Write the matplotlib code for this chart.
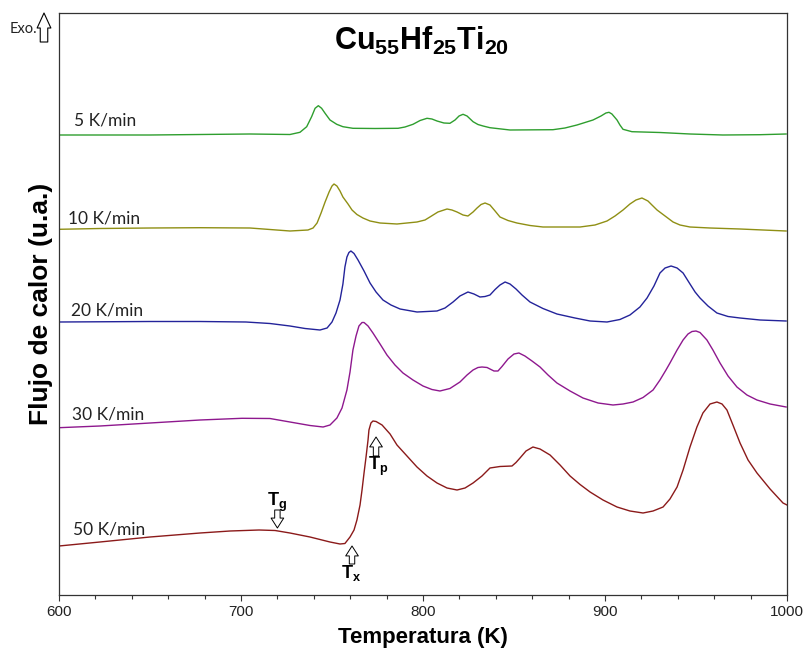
import matplotlib
matplotlib.use("Agg")
import matplotlib.pyplot as plt
from matplotlib.ticker import MultipleLocator

plt.rcParams['mathtext.fontset'] = 'custom'
plt.rcParams['mathtext.rm'] = 'Liberation Sans'
plt.rcParams['mathtext.bf'] = 'Liberation Sans:bold'

# ---------------- data (temperature K, heat flow a.u.) ----------------
T_5 = [600, 650, 677.5, 704.9, 726.9, 732.4, 736.1, 738.8, 740.7, 742.5, 744.3, 746.2, 748.9, 752.6,
       756.0, 761.5, 773.6, 786.3, 790.1, 794.5, 798.4, 802.2, 804.9, 807.7, 811.5, 814.8, 817.6,
       819.8, 822.0, 824.2, 827.5, 830.2, 833.0, 836.8, 847.8, 871.4, 878.0, 884.6, 889.0, 893.4,
       897.8, 900.5, 902.2, 903.8, 906.6, 908.2, 909.9, 914.8, 930.2, 946.7, 964.8, 985.2, 999.5]
Q_5 = [460, 460, 460.5, 461, 460.5, 462.7, 468.3, 478.3, 486.7, 489.3, 486.7, 481.7, 475, 470.7,
       468.3, 466.7, 466.5, 466.7, 468, 470.7, 474.5, 476.7, 476, 474, 472, 471.7, 475,
       479, 480.7, 479, 473.3, 470.5, 469, 467.3, 465, 465.3, 467, 470, 472.5, 475,
       479, 482, 482.7, 481, 475, 470, 465.7, 463.3, 462.5, 461, 460, 460.3, 461]

T_10 = [600, 622.5, 650, 677.5, 704.9, 726.9, 736.8, 739.6, 741.8, 744.0, 746.2, 748.4, 750.0, 751.1,
        752.7, 754.4, 756.0, 758.8, 761.0, 763.7, 767.0, 770.9, 776.4, 785.7, 796.7, 801.1, 803.8,
        808.2, 813.2, 815.9, 818.7, 822.0, 824.7, 827.5, 829.7, 831.9, 834.1, 836.8, 839.6, 842.3,
        846.7, 851.6, 858.8, 865.9, 886.3, 894.5, 901.1, 905.5, 909.9, 913.7, 917.0, 920.3, 923.6,
        925.8, 928.6, 933.0, 937.4, 941.2, 946.7, 957.7, 974.2, 999.5]
Q_10 = [365.7, 366.5, 367, 367.3, 367, 364, 365, 367, 372, 382, 393, 403, 409, 411,
        409, 404, 398, 391, 385, 380.5, 377, 374, 372, 371, 373, 375, 378,
        383, 386, 385, 383, 380, 379, 383, 387, 390.5, 392, 390, 384, 378,
        374.5, 372, 369.5, 368, 368, 370, 374, 379, 385, 391, 395, 397, 394,
        390, 385, 379, 373, 370, 368, 367, 366, 364]

T_20 = [600, 650, 677.5, 702.7, 715.9, 726.9, 735.2, 743.4, 747.3, 750.0, 752.2, 754.4, 756.0, 757.1,
        758.2, 759.3, 760.4, 762.1, 764.3, 767.6, 770.9, 774.2, 778.0, 782.4, 787.4, 796.7, 807.7,
        812.1, 816.5, 820.3, 824.7, 828.0, 831.3, 834.1, 836.8, 839.6, 842.3, 845.1, 847.8, 851.1,
        854.4, 858.8, 865.9, 873.6, 883.5, 891.8, 901.1, 908.2, 913.7, 919.2, 923.1, 926.9, 930.2,
        933.0, 936.3, 939.6, 942.9, 946.7, 949.5, 952.2, 956.6, 961.5, 967.6, 974.2, 985.2, 999.5]
Q_20 = [273, 273.5, 273.5, 273, 271.5, 269, 266.5, 265, 267, 273, 282, 295, 311, 328,
        338, 342.5, 344, 341.5, 335, 324, 312, 303, 295, 290, 286, 283, 284,
        287, 293, 299, 303, 301, 298, 298.5, 300, 305.5, 310, 313, 311, 306,
        300, 293, 286.5, 281, 277, 274, 273, 275.5, 280, 288, 297, 309, 322,
        327, 329, 327, 322, 311, 303, 297, 289, 282, 278.5, 277, 275, 274]

T_30 = [600, 622.5, 650, 677.5, 700.5, 715.9, 726.9, 737.9, 745.1, 748.9, 752.7, 755.5, 758.2, 759.9,
        761.5, 763.2, 764.8, 766.5, 767.6, 769.8, 772.5, 776.4, 780.2, 784.6, 789.0, 794.5, 800.0,
        804.9, 809.3, 814.8, 820.3, 824.2, 827.5, 830.2, 832.4, 835.2, 836.8, 839.0, 841.2, 843.4,
        846.7, 850.0, 852.7, 856.0, 859.9, 864.3, 868.7, 873.6, 880.8, 887.9, 896.2, 904.4, 909.9,
        915.4, 920.9, 926.4, 930.2, 933.5, 935.7, 939.6, 942.9, 945.6, 947.8, 950.0, 952.2, 956.0,
        959.3, 963.2, 967.6, 972.5, 978.0, 983.5, 990.7, 999.5]
Q_30 = [167.3, 169, 172, 175, 176.7, 176.5, 173, 169.5, 168, 170, 177, 187, 205, 223,
        245, 259, 269, 272.5, 272.5, 269, 262, 251, 240, 230, 222, 215, 209,
        205.5, 204, 206.5, 213, 220, 225, 227.5, 228, 227.5, 226, 224, 224, 228.5,
        236, 241, 242, 239, 234, 228, 220, 212, 204, 197, 192, 190, 191,
        193, 197.5, 205, 215, 225, 232, 245, 255, 261, 263.5, 264, 262.5, 255,
        245, 232, 219, 208, 200, 195, 191, 188]

T_50 = [600, 622.5, 650, 677.5, 694.0, 709.9, 718.7, 726.9, 737.9, 748.9, 754.4, 757.1, 759.9, 762.1,
        763.7, 765.4, 766.5, 767.6, 768.7, 769.8, 770.3, 771.4, 772.5, 774.2, 777.5, 781.9, 785.7,
        791.2, 796.7, 802.2, 807.7, 813.2, 818.7, 823.1, 827.5, 832.4, 836.8, 842.3, 848.9, 851.1,
        853.3, 856.6, 860.4, 864.3, 869.8, 875.3, 880.8, 886.3, 891.8, 898.9, 906.6, 913.7, 920.9,
        926.4, 931.9, 935.7, 939.6, 942.9, 946.7, 950.5, 953.8, 957.7, 961.5, 964.3, 967.0, 970.3,
        974.2, 978.6, 983.5, 990.7, 997.8, 1000.0]
Q_50 = [49, 53, 58, 62, 64, 65, 64.5, 62, 58, 53, 51, 51.5, 58, 65,
        75, 90, 105, 122, 138, 155, 165, 172, 174, 173.5, 170, 161, 150,
        139, 128, 119, 112, 107, 105, 107, 112, 119, 127, 128.5, 129, 132.5,
        137, 144, 148, 146, 140, 130, 119, 110.5, 103, 95, 88, 84, 82,
        84, 88, 96, 108, 125, 148, 168, 182, 191, 193, 191, 185, 170,
        152, 135, 122, 106, 92, 90]

rate_labels = ['5 K/min', '10 K/min', '20 K/min', '30 K/min', '50 K/min']
label_T = [608.2, 605.0, 606.6, 607.1, 607.7]
label_Q = [474, 376, 285, 181, 65.5]
colors = ['#2e9e2e', '#8f8f14', '#23239a', '#8e188e', '#8b1a1a']

# characteristic temperatures of 50 K/min curve (arrows)
Tg, Tx, Tp = 720.0, 761.0, 774.2

series_T = [T_5, T_10, T_20, T_30, T_50]
series_Q = [Q_5, Q_10, Q_20, Q_30, Q_50]

# ---------------- figure ----------------
fig = plt.figure(figsize=(8.04, 6.49), dpi=100)
ax = fig.add_axes([59/804, 54/649, 728/804, 582/649])

for T, Q, c in zip(series_T, series_Q, colors):
    ax.plot(T, Q, color=c, lw=1.0, solid_joinstyle='round')

for lab, tx, ty in zip(rate_labels, label_T, label_Q):
    ax.text(tx, ty, lab, family='Lato', fontsize=12.5, color='#222222',
            ha='left', va='center')

ax.set_xlim(600, 1000)
ax.set_ylim(0, 582)
ax.xaxis.set_major_locator(MultipleLocator(100))
ax.xaxis.set_minor_locator(MultipleLocator(20))
ax.tick_params(axis='x', which='both', direction='out', color='#333333')
ax.tick_params(axis='x', which='major', length=4, width=0.8, labelsize=11, pad=3)
ax.tick_params(axis='x', which='minor', length=3.2, width=0.8)
ax.set_yticks([])
for lab in ax.get_xticklabels():
    lab.set_family('Liberation Sans')
    lab.set_color('#222222')
for sp in ax.spines.values():
    sp.set_color('#333333')
    sp.set_linewidth(0.9)

ax.set_xlabel('Temperatura (K)', family='Liberation Sans', fontweight='bold',
              fontsize=16, labelpad=6)
ax.set_ylabel('Flujo de calor (u.a.)', family='Liberation Sans', fontweight='bold',
              fontsize=19, labelpad=4)

ax.text(0.498, 0.952, r'$\mathbf{Cu_{55}Hf_{25}Ti_{20}}$', transform=ax.transAxes,
        fontsize=22, ha='center', va='center', color='black')

arrow_kw = dict(arrowstyle='simple,head_length=0.55,head_width=0.7,tail_width=0.3',
                fc='white', ec='black', lw=0.7, shrinkA=0, shrinkB=0, mutation_scale=13)

# Tg (down arrow)
ax.annotate('', xy=(Tg, 67), xytext=(Tg, 85), arrowprops=arrow_kw)
ax.text(Tg, 89, r'$\mathbf{T_g}$', fontsize=13, ha='center', va='baseline')
# Tx (up arrow)
ax.annotate('', xy=(Tx, 49), xytext=(Tx, 31), arrowprops=arrow_kw)
ax.text(Tx - 0.5, 17, r'$\mathbf{T_x}$', fontsize=13, ha='center', va='baseline')
# Tp (up arrow)
ax.annotate('', xy=(Tp, 158), xytext=(Tp, 139), arrowprops=arrow_kw)
ax.text(Tp + 1.0, 125, r'$\mathbf{T_p}$', fontsize=13, ha='center', va='baseline')

# Exo. indicator
fig.text(37/804, 1 - 29/649, 'Exo.', family='Lato', fontsize=10.5, ha='right', va='center',
         color='#222222')
ax.annotate('', xy=(44, 649 - 13), xytext=(44, 649 - 42), xycoords='figure pixels',
            textcoords='figure pixels',
            arrowprops=dict(arrowstyle='simple,head_length=0.6,head_width=0.55,tail_width=0.3',
                            fc='white', ec='black', lw=0.8, shrinkA=0, shrinkB=0,
                            mutation_scale=18), annotation_clip=False)

fig.savefig('out.png', dpi=100)
